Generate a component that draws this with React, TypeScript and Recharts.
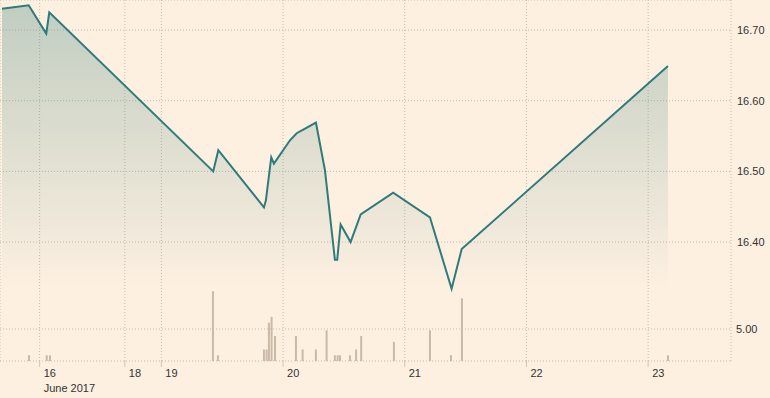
import {
  Area,
  Bar,
  CartesianGrid,
  ComposedChart,
  Line,
  ReferenceLine,
  XAxis,
  YAxis,
} from "recharts";

// x positions are in trading-day units (16 June = 0)
const tickPositions = [0, 0.7, 1, 2, 3, 4, 5];
const tickLabels = ["16", "18", "19", "20", "21", "22", "23"];

const priceTimes = [
  -0.31, -0.09, 0.054, 0.079, 1.426, 1.468, 1.843, 1.859, 1.903, 1.925, 2.057, 2.112, 2.166, 2.27,
  2.344, 2.426, 2.445, 2.473, 2.555, 2.638, 2.905, 3.207, 3.385, 3.468, 5.163,
];
const prices = [
  16.73, 16.735, 16.695, 16.725, 16.5, 16.53, 16.449, 16.459, 16.52, 16.511, 16.544, 16.554, 16.559,
  16.569, 16.502, 16.375, 16.375, 16.425, 16.4, 16.439, 16.47, 16.435, 16.334, 16.39, 16.649,
];

const volumeTimes = [
  -0.088, 0.058, 0.085, 1.424, 1.465, 1.843, 1.865, 1.884, 1.906, 1.934, 2.106, 2.161, 2.27, 2.358,
  2.426, 2.449, 2.468, 2.55, 2.6, 2.642, 2.911, 3.207, 3.38, 3.47, 5.163,
];
const volumes = [
  0.9, 0.9, 0.9, 10.9, 0.9, 1.8, 1.8, 6.0, 6.9, 3.9, 3.9, 1.8, 1.8, 4.8, 0.9, 0.9, 0.9, 0.9, 1.8, 3.9,
  3.0, 4.8, 0.9, 9.8, 0.9,
];

const priceTicks = [16.4, 16.5, 16.6, 16.7];

type Row = { t: number; price?: number; vol?: number };

const rows: Row[] = [
  ...priceTimes.map((t, i) => ({ t, price: prices[i] })),
  ...volumeTimes.map((t, i) => ({ t, vol: volumes[i] })),
].sort((a, b) => a.t - b.t);

const FONT = "'Liberation Sans', Arial, sans-serif";
const GRID = "#c4bbaf";

function DayTick(props: any) {
  const { x, y, payload, index } = props;
  const label = tickLabels[tickPositions.indexOf(payload.value)] ?? "";
  return (
    <g>
      <text x={x + 4} y={y + 8} fill="#333" fontSize={11} fontFamily={FONT} textAnchor="start">
        {label}
      </text>
      {index === 0 && (
        <text x={x + 4} y={y + 23} fill="#333" fontSize={11} fontFamily={FONT} textAnchor="start">
          June 2017
        </text>
      )}
    </g>
  );
}

// thin 2px volume stick centred on its time
function VolumeStick(props: any) {
  const { x, y, width, height } = props;
  if (!height || height <= 0) return null;
  const cx = x + width / 2;
  return <rect x={cx - 1} y={y} width={2} height={height} fill="#cbb9a8" />;
}

export default function App() {
  return (
    <div style={{ position: "absolute", left: 0, top: 0, width: 770, height: 398, background: "#fdf0e1" }}>
      <ComposedChart width={770} height={398} data={rows} margin={{ top: 0, right: 0, bottom: 0, left: 0 }}>
        <defs>
          <linearGradient id="priceFill" gradientUnits="userSpaceOnUse" x1="0" y1="0" x2="0" y2="290">
            <stop offset="0%" stopColor="#4d8a84" stopOpacity={0.58} />
            <stop offset="100%" stopColor="#4d8a84" stopOpacity={0} />
          </linearGradient>
        </defs>
        <CartesianGrid yAxisId="p" stroke={GRID} strokeDasharray="1 2" />
        <XAxis
          dataKey="t"
          type="number"
          domain={[-0.326, 5.681]}
          ticks={tickPositions}
          allowDataOverflow
          height={37}
          axisLine={false}
          tickLine={{ stroke: "#cfc6bb" }}
          tickSize={6}
          tick={<DayTick />}
          interval={0}
        />
        <YAxis
          yAxisId="p"
          orientation="right"
          width={39}
          domain={[16.2317, 16.7425]}
          ticks={priceTicks}
          allowDataOverflow
          axisLine={false}
          tickLine={false}
          tickSize={0}
          tickMargin={6}
          tickFormatter={(v: number) => v.toFixed(2)}
          tick={{ fill: "#333", fontSize: 11, fontFamily: FONT }}
        />
        <YAxis yAxisId="v" hide domain={[0, 56.4]} allowDataOverflow />
        <ReferenceLine
          yAxisId="v"
          y={5}
          stroke={GRID}
          strokeDasharray="1 2"
          label={{ value: "5.00", position: "right", fill: "#333", fontSize: 11, fontFamily: FONT }}
        />
        <Bar yAxisId="v" dataKey="vol" barSize={2} shape={<VolumeStick />} isAnimationActive={false} />
        <Area
          yAxisId="p"
          type="linear"
          dataKey="price"
          stroke="none"
          fill="url(#priceFill)"
          dot={false}
          activeDot={false}
          connectNulls
          isAnimationActive={false}
        />
        <Line
          yAxisId="p"
          type="linear"
          dataKey="price"
          stroke="#2e7b7b"
          strokeWidth={2}
          dot={false}
          activeDot={false}
          connectNulls
          isAnimationActive={false}
        />
      </ComposedChart>
    </div>
  );
}
